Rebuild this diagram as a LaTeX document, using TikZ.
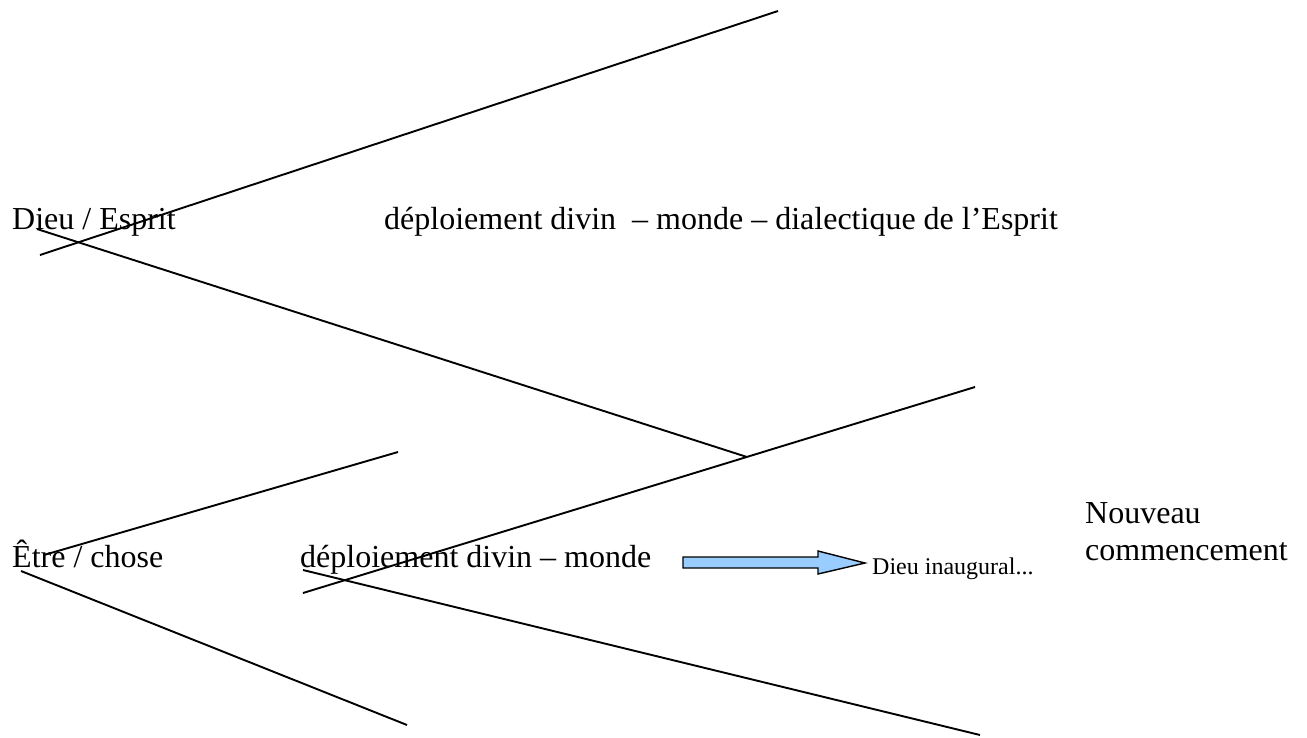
\documentclass[tikz,border=0pt]{standalone}
\usepackage{fontspec}
\setmainfont{Liberation Serif}
\definecolor{arrowblue}{RGB}{153,204,255}
\tikzset{
  lbl/.style={anchor=base west, inner sep=0pt, font=\fontsize{32}{37}\selectfont},
  lblsmall/.style={anchor=base west, inner sep=0pt, font=\fontsize{24}{28}\selectfont},
  branch/.style={line width=1.9pt, line cap=butt},
  flowarrow/.style={draw=black, line width=1.4pt, fill=arrowblue, line join=miter}
}
\begin{document}
\begin{tikzpicture}[x=1pt, y=-1pt]
  \useasboundingbox (0,0) rectangle (1307,737);

  % labels
  \node[lbl] (dieu) at (12,229) {Dieu / Esprit};
  \node[lbl] (deploi1) at (384,229) {déploiement divin \ – monde – dialectique de l’Esprit};
  \node[lbl] (etre) at (12,567) {Être / chose};
  \node[lbl] (deploi2) at (300,567) {déploiement divin – monde};
  \node[lblsmall] (inaug) at (872,574) {Dieu inaugural...};
  \node[lbl] (nouv) at (1085,523) {Nouveau};
  \node[lbl] (comm) at (1085,560) {commencement};

  % branch end points
  \coordinate (a1) at (40,255);   \coordinate (a2) at (778,11);
  \coordinate (b1) at (37,229);   \coordinate (b2) at (747,457);
  \coordinate (c1) at (303,593);  \coordinate (c2) at (975,387);
  \coordinate (d1) at (303,570);  \coordinate (d2) at (980,735);
  \coordinate (e1) at (44,555);   \coordinate (e2) at (398,452);
  \coordinate (f1) at (21,571);   \coordinate (f2) at (407,725);

  \draw[branch] (a1) -- (a2);
  \draw[branch] (b1) -- (b2);
  \draw[branch] (c1) -- (c2);
  \draw[branch] (d1) -- (d2);
  \draw[branch] (e1) -- (e2);
  \draw[branch] (f1) -- (f2);

  % block arrow towards the new beginning
  \draw[flowarrow] (683,557) -- (818,557) -- (818,551) -- (865,563)
    -- (818,574) -- (818,568) -- (683,568) -- cycle;
\end{tikzpicture}
\end{document}
